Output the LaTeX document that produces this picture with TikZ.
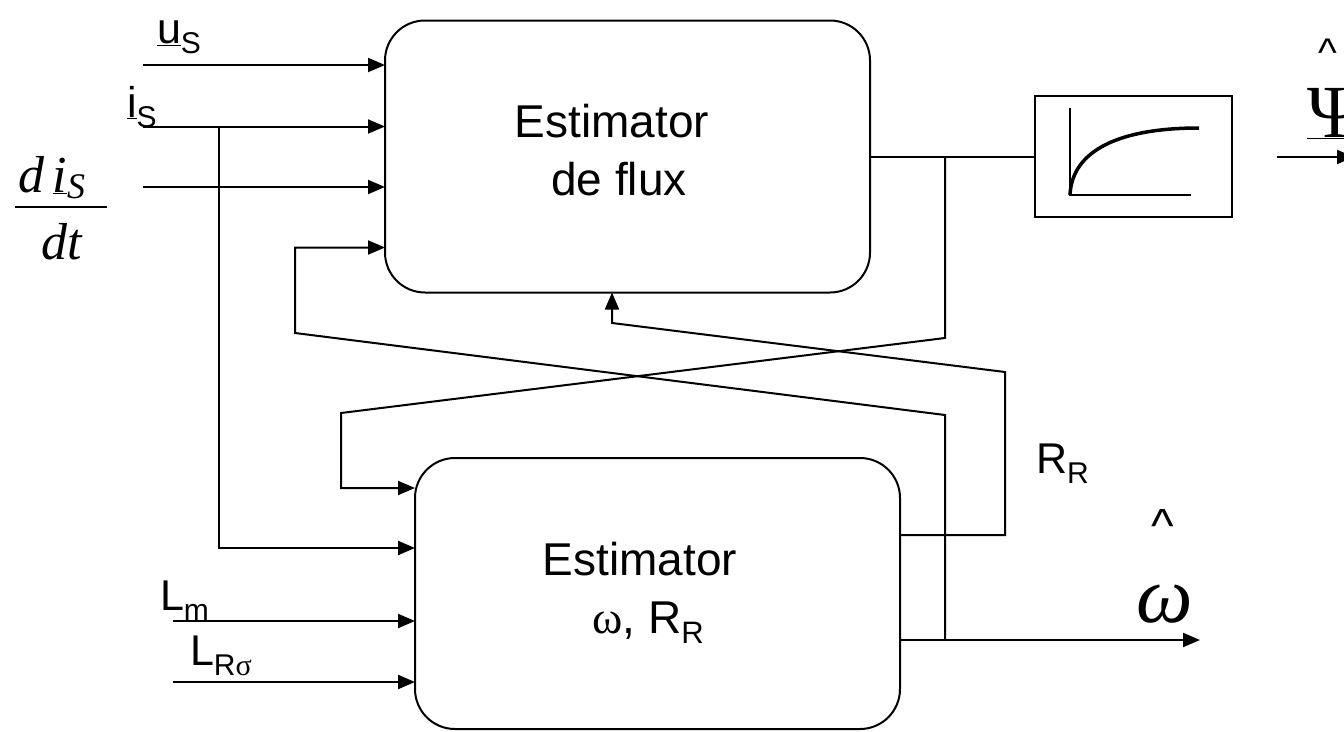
\documentclass[tikz,border=0pt]{standalone}
\usepackage{fontspec}
\setmainfont{Liberation Sans}
\newfontfamily\serifff{Liberation Serif}
\usetikzlibrary{arrows.meta}
\newcommand\fsz[1]{\fontsize{#1}{#1}\selectfont}
\newcommand\sbs[2][30]{\raisebox{-10pt}{\fsz{#1}#2}}
\begin{document}
\begin{tikzpicture}[x=1pt,y=-1pt,line width=2pt,
  arr/.style={-{Triangle[length=17pt,width=14pt]}},
  blk/.style={draw,rounded corners=40pt,inner sep=0pt,outer sep=0pt},
  txt/.style={inner sep=0pt,outer sep=0pt,font=\fsz{46}},
  lbl/.style={inner sep=0pt,outer sep=0pt,font=\fsz{43},anchor=base west},
  crt/.style={inner sep=0pt,outer sep=0pt,anchor=base}]
\fill[white] (0,0) rectangle (1344,731);
\useasboundingbox (0,0) rectangle (1344,731);

% blocks
\node[blk,minimum width=485pt,minimum height=272pt] (fe) at (627.5,156.5) {};
\node[blk,minimum width=485pt,minimum height=271pt] (we) at (657.5,593.5) {};
\node[draw,line width=1.5pt,minimum width=197pt,minimum height=121pt,inner sep=0pt,outer sep=0pt] (sat) at (1133.5,156.5) {};
\draw[line width=1.5pt] (1070,108) -- (1070,195) -- (1191,195);
\draw[line width=3.5pt] (1070,195) .. controls (1072,150) and (1120,128) .. (1199,128);

\node[txt,anchor=base] (fe1) at (612,137) {Estimator};
\node[txt,anchor=base] (fe2) at (619,195) {de flux};
\node[txt,anchor=base] (we1) at (640,575) {Estimator};
\node[txt,anchor=base] (we2) at (648,633) {{\serifff ω}, R\sbs[31]{R}};

% inputs of flux estimator
\coordinate (u0) at (143,65);
\coordinate (i0) at (143,126.5);
\coordinate (d0) at (143,187);
\draw[arr] (u0) -- (u0 -| fe.west);
\draw[arr] (i0) -- (i0 -| fe.west);
\draw[arr] (d0) -- (d0 -| fe.west);

% i_S branch
\coordinate (is) at (219,126.5);
\coordinate (is2) at (219,548);
\draw[arr] (is) -- (is2) -- (is2 -| we.west);

% L inputs
\coordinate (lm) at (173,621);
\coordinate (lr) at (173,682);
\draw[arr] (lm) -- (lm -| we.west);
\draw[arr] (lr) -- (lr -| we.west);

% flux output
\draw (fe.east) -- (sat.west);
\coordinate (fb) at (945,156.5);
\coordinate (fc) at (945,338);
\coordinate (fd) at (341,413);
\coordinate (ff) at (341,488);
\draw[arr] (fb) -- (fc) -- (fd) -- (ff) -- (ff -| we.west);

% omega output and feedback
\coordinate (wo) at (1200,640);
\draw[arr] (wo -| we.east) -- (wo);
\coordinate (wb) at (945,640);
\coordinate (wc) at (945,415);
\coordinate (wd) at (295,333);
\coordinate (wf) at (295,247.5);
\draw[arr] (wb) -- (wc) -- (wd) -- (wf) -- (wf -| fe.west);

% R_R output and feedback
\coordinate (r1) at (1005,535);
\coordinate (r2) at (1005,372);
\coordinate (r3) at (612,323);
\draw[arr] (r1 -| we.east) -- (r1) -- (r2) -- (r3) -- (r3 |- fe.south);

% Psi output arrow
\coordinate (p0) at (1277,157);
\coordinate (p1) at (1354,157);
\draw[arr] (p0) -- (p1);

% labels
\node[lbl] (lu) at (157,43) {\underline{u}\sbs{S}};
\node[lbl] (li) at (127,117) {\underline{i}\sbs{S}};
\node[lbl] (llm) at (160,610) {L\sbs{m}};
\node[lbl] (llr) at (190,665) {L\sbs{R{\serifff σ}}};
\node[lbl,font=\fsz{43}] (lrr) at (1036,473) {R\sbs[30]{R}};

% d i_S / dt
\node[anchor=base west,inner sep=0pt,font=\fsz{52}\serifff\itshape] (num) at (17,192) {d\,\underline{i}\raisebox{-6pt}{\fsz{36}S}};
\draw (15,207) -- (107,207);
\node[anchor=base west,inner sep=0pt,font=\fsz{52}\serifff\itshape] (den) at (40,259) {dt};

% omega hat
\node[crt,font=\fsz{48}] (wh) at (1163,542) {\textasciicircum};
\node[anchor=base west,inner sep=0pt,font=\fsz{80}\serifff\itshape] (wl) at (1135,622) {ω};

% Psi hat
\node[crt,font=\fsz{40}] (ph) at (1328,66) {\textasciicircum};
\node[anchor=base west,inner sep=0pt,font=\fsz{75}\serifff] (pl) at (1306,137) {\underline{Ψ}};
\end{tikzpicture}
\end{document}
